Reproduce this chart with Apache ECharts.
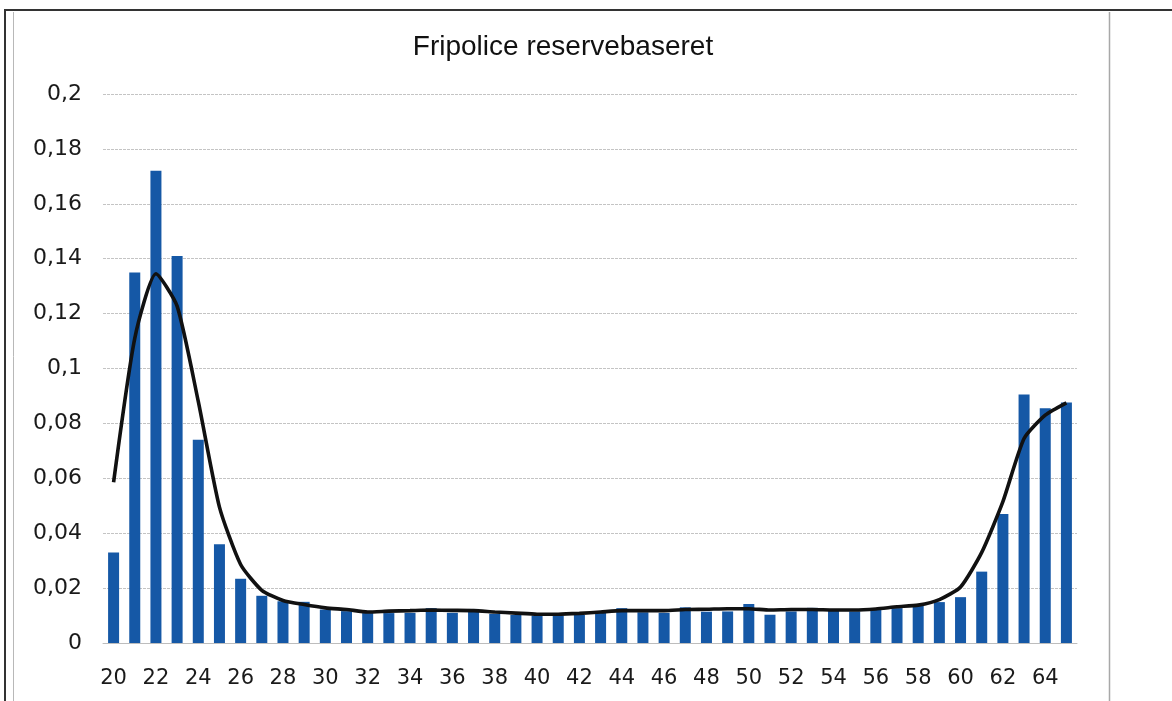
<!DOCTYPE html>
<html>
<head>
<meta charset="utf-8">
<script src="https://cdn.jsdelivr.net/npm/echarts@6/dist/echarts.min.js"></script>
<style>
  html, body { margin: 0; padding: 0; background: #fff; }
  #chart { width: 1172px; height: 701px; }
</style>
</head>
<body>
<div id="chart"></div>
<script>
// Ages on the x axis
const ages = [20,21,22,23,24,25,26,27,28,29,30,31,32,33,34,35,36,37,38,39,40,41,42,43,44,45,46,47,48,49,50,51,52,53,54,55,56,57,58,59,60,61,62,63,64,65];

// Observed rates per age (bars)
const observed = [0.033,0.135,0.172,0.141,0.074,0.036,0.0234,0.0172,0.0152,0.0150,0.0122,0.0116,
  0.0109,0.0109,0.011,0.0127,0.011,0.0124,0.0106,0.0102,0.010,0.010,0.0102,0.0112,0.0127,0.0112,
  0.011,0.013,0.0114,0.0115,0.0142,0.0103,0.0115,0.0128,0.0119,0.0115,0.0121,0.0127,0.0136,0.0149,
  0.0167,0.026,0.047,0.0905,0.0855,0.0876];

// Smoothed rates per age (line)
const smoothed = [0.0586,0.111,0.1345,0.1227,0.088,0.0495,0.0286,0.0192,0.0155,0.0140,0.0128,0.0122,
  0.0113,0.0116,0.0118,0.0120,0.0119,0.0118,0.0113,0.0109,0.0105,0.0105,0.0108,0.0113,0.0118,0.0118,
  0.0118,0.0122,0.0123,0.0125,0.0125,0.0120,0.0122,0.0122,0.0120,0.0120,0.0124,0.0132,0.0138,0.0158,
  0.0204,0.0330,0.0515,0.0745,0.083,0.0875];

const yTicks = { min: 0, max: 0.2, interval: 0.02 };

const chart = echarts.init(document.getElementById('chart'), null, { renderer: 'canvas' });

chart.setOption({
  animation: false,
  backgroundColor: '#ffffff',
  grid: { left: 103, right: 95, top: 94, bottom: 58, containLabel: false },
  xAxis: {
    type: 'category',
    data: ages,
    boundaryGap: true,
    axisLine: { show: true, lineStyle: { color: '#bdbdbd', width: 1 } },
    axisTick: { show: false },
    axisLabel: {
      interval: 1,
      color: '#1a1a1a',
      fontFamily: 'DejaVu Sans',
      fontSize: 21,
      margin: 25
    },
    splitLine: { show: false }
  },
  yAxis: {
    type: 'value',
    min: yTicks.min,
    max: yTicks.max,
    interval: yTicks.interval,
    axisLine: { show: false },
    axisTick: { show: false },
    axisLabel: {
      color: '#1a1a1a',
      fontFamily: 'DejaVu Sans',
      fontSize: 22,
      margin: 21,
      formatter: v => (Math.round(v * 100) / 100).toString().replace('.', ',')
    },
    splitLine: { show: true, lineStyle: { color: '#c4c4c4', width: 1, type: [3, 1] } }
  },
  series: [
    {
      type: 'bar',
      data: observed,
      barWidth: 11,
      itemStyle: { color: '#1558a6' },
      z: 2
    },
    {
      type: 'line',
      data: smoothed,
      smooth: 0.2,
      showSymbol: false,
      lineStyle: { color: '#111111', width: 3.6 },
      z: 3
    }
  ],
  graphic: [
    { type: 'text', x: 563, y: 47,
      style: { text: 'Fripolice reservebaseret', fill: '#111', font: '28px "Liberation Sans", Arial, sans-serif',
               textAlign: 'center', textVerticalAlign: 'middle' } },
    // frame lines
    { type: 'line', shape: { x1: 4, y1: 10, x2: 1172, y2: 10 }, style: { stroke: '#333', lineWidth: 2 } },
    { type: 'line', shape: { x1: 5, y1: 10, x2: 5, y2: 701 }, style: { stroke: '#333', lineWidth: 2 } },
    { type: 'line', shape: { x1: 13.5, y1: 12, x2: 13.5, y2: 701 }, style: { stroke: '#b8b8b8', lineWidth: 1 } },
    { type: 'line', shape: { x1: 1109.5, y1: 12, x2: 1109.5, y2: 701 }, style: { stroke: '#a8a8a8', lineWidth: 1.5 } }
  ]
});
</script>
</body>
</html>
